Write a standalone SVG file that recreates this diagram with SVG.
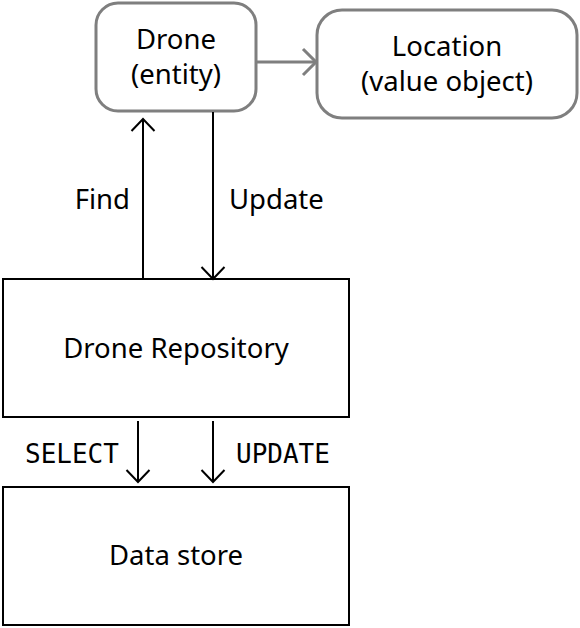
<svg xmlns="http://www.w3.org/2000/svg" width="580" height="628" viewBox="0 0 580 628">
<defs>
<marker id="ah" markerWidth="26" markerHeight="26" refX="13" refY="13" orient="auto" markerUnits="userSpaceOnUse">
<path d="M1,1.5 L13,13 L1,24.5" fill="none" stroke="#000" stroke-width="2"/>
</marker>
<marker id="ahg" markerWidth="30" markerHeight="30" refX="15" refY="15" orient="auto" markerUnits="userSpaceOnUse">
<path d="M2,2 L15,15 L2,28" fill="none" stroke="#7f7f7f" stroke-width="3"/>
</marker>
</defs>
<style>
text{font-family:"Noto Sans","Liberation Sans",sans-serif;font-size:27.5px;fill:#000}
.r{fill:#fff;stroke:#7f7f7f;stroke-width:3}
.b{fill:#fff;stroke:#000;stroke-width:2}
.c{stroke:#000;stroke-width:2;fill:none}
.m{text-anchor:middle}
.mono{font-family:"DejaVu Sans Mono","Liberation Mono",monospace;font-size:26px}
</style>
<rect width="580" height="628" fill="#fff"/>
<g id="drone"><rect class="r" x="96" y="3" width="160" height="108" rx="22"/><text class="m" x="176" y="49">Drone</text><text class="m" x="176" y="84">(entity)</text></g>
<g id="location"><rect class="r" x="317" y="10" width="260" height="108" rx="25"/><text class="m" x="447" y="56">Location</text><text class="m" x="447" y="91">(value object)</text></g>
<g id="repo"><rect class="b" x="3" y="279" width="346" height="138"/><text class="m" x="176" y="358">Drone Repository</text></g>
<g id="store"><rect class="b" x="3" y="487" width="346" height="138"/><text class="m" x="176" y="565">Data store</text></g>
<g id="connectors">
<line x1="257" y1="62" x2="316" y2="62" stroke="#7f7f7f" stroke-width="3" marker-end="url(#ahg)"/>
<line class="c" x1="143" y1="279" x2="143" y2="119" marker-end="url(#ah)"/>
<line class="c" x1="213" y1="112" x2="213" y2="279" marker-end="url(#ah)"/>
<line class="c" x1="138" y1="421" x2="138" y2="482" marker-end="url(#ah)"/>
<line class="c" x1="213" y1="421" x2="213" y2="482" marker-end="url(#ah)"/>
<text x="130" y="209" text-anchor="end">Find</text>
<text x="229" y="209">Update</text>
<text class="mono" x="25" y="463">SELECT</text>
<text class="mono" x="236" y="463">UPDATE</text>
</g>
</svg>
